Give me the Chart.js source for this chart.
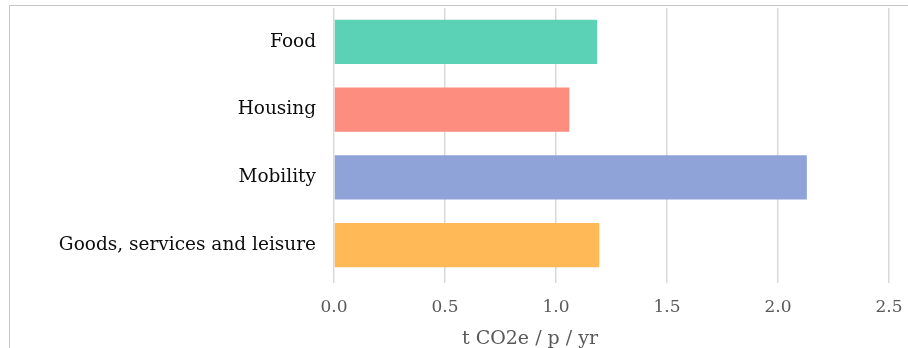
<!DOCTYPE html>
<html>
<head>
<meta charset="utf-8">
<script src="https://cdn.jsdelivr.net/npm/chart.js@4/dist/chart.umd.min.js"></script>
<style>
  html, body { margin: 0; padding: 0; background: #fff; }
  #wrap { position: relative; width: 908px; height: 348px; overflow: hidden; }
  #frame { position: absolute; left: 9px; top: 5px; width: 960px; height: 400px;
           border-top: 1px solid #c6c6c6; border-left: 1px solid #c6c6c6; }
  #xtitle { position: absolute; top: 327px; left: 530px; transform: translateX(-50%);
            font-family: "DejaVu Serif", serif; font-size: 19px; line-height: 20px;
            color: #595959; white-space: nowrap; }
  canvas { position: absolute; left: 0; top: 0; }
</style>
</head>
<body>
<div id="wrap">
  <div id="frame"></div>
  <canvas id="chart" width="908" height="348"></canvas>
  <div id="xtitle">t CO2e / p / yr</div>
</div>
<script>
const categories = ['Food', 'Housing', 'Mobility', 'Goods, services and leisure'];
const values = [1.185, 1.06, 2.13, 1.195];
const barColors = ['#5bd1b5', '#fd8d7f', '#8fa3d8', '#ffb957'];
const xTicks = [0, 0.5, 1, 1.5, 2, 2.5];

const ctx = document.getElementById('chart').getContext('2d');

function noPad(scale) {
  scale.paddingTop = 0;
  scale.paddingBottom = 0;
  scale.paddingLeft = 0;
  scale.paddingRight = 0;
}

new Chart(ctx, {
  type: 'bar',
  data: {
    labels: categories,
    datasets: [{
      data: values,
      backgroundColor: barColors,
      borderWidth: 0,
      categoryPercentage: 0.65,
      barPercentage: 1
    }]
  },
  options: {
    indexAxis: 'y',
    responsive: false,
    animation: false,
    layout: { padding: { top: 8, right: 19, left: 0, bottom: 0 } },
    plugins: { legend: { display: false }, tooltip: { enabled: false } },
    scales: {
      x: {
        min: 0,
        max: 2.5,
        afterBuildTicks: (scale) => { scale.ticks = xTicks.map(v => ({ value: v })); },
        afterFit: (scale) => { scale.height = 69; noPad(scale); },
        grid: { color: '#d9d9d9', lineWidth: 1.5, drawTicks: true, tickLength: 4 },
        border: { display: false },
        ticks: {
          color: '#595959',
          padding: 14,
          font: { family: 'DejaVu Serif', size: 17 },
          callback: (v) => Number(v).toFixed(1)
        }
      },
      y: {
        afterFit: (scale) => { scale.width = 334; noPad(scale); },
        grid: { display: false },
        border: { display: false },
        ticks: {
          color: '#0d0d0d',
          padding: 10,
          font: { family: 'DejaVu Serif', size: 18.5 }
        }
      }
    }
  }
});
</script>
</body>
</html>
